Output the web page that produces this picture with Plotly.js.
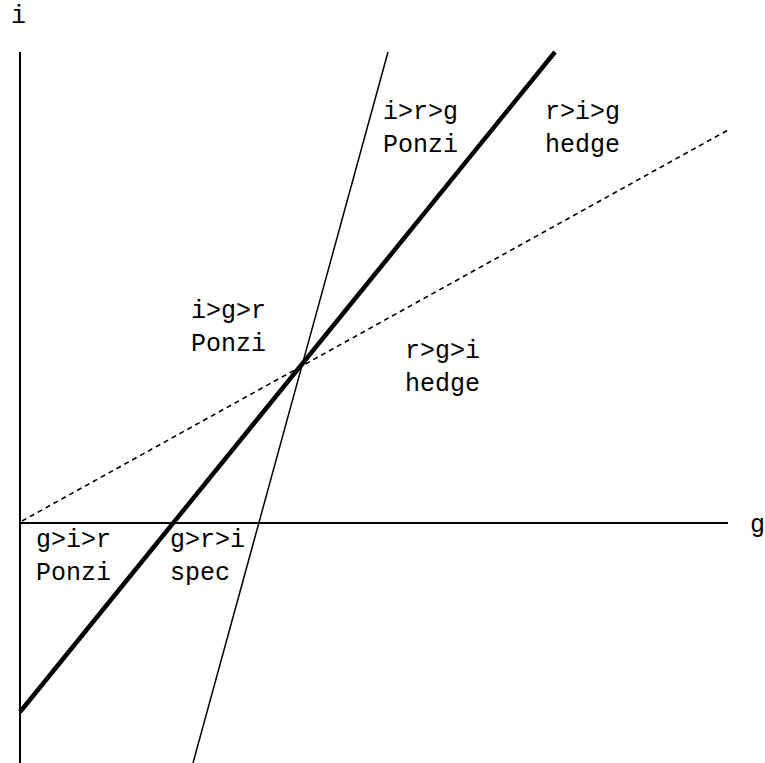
<!DOCTYPE html>
<html>
<head>
<meta charset="utf-8">
<script src="https://cdn.plot.ly/plotly-3.0.1.min.js"></script>
<style>html,body{margin:0;padding:0;background:#fff;}#chart{width:765px;height:763px;}</style>
</head>
<body>
<div id="chart"></div>
<script>
// Line endpoints in (g, i) units
const thickG = [0, 5.35];
const thickI = [-1.89, 4.71];
const steepG = [1.73, 3.68];
const steepI = [-2.40, 4.71];
const dashG = [0.02, 7.08];
const dashI = [0.02, 3.93];
const hAxisG = [0, 7.08];
const hAxisI = [0, 0];
const vAxisG = [0, 0];
const vAxisI = [-2.45, 4.71];

// Region labels
const labelTop = ["i>r>g", "r>i>g", "i>g>r", "r>g>i", "g>i>r", "g>r>i"];
const labelBottom = ["Ponzi", "hedge", "Ponzi", "hedge", "Ponzi", "spec"];
const labelG = [3.61, 5.23, 1.69, 3.83, 0.14, 1.48];
const labelI = [3.94, 3.94, 1.95, 1.55, -0.34, -0.34];

// Axis names
const axisNames = ["i", "g"];
const axisNameG = [-0.02, 7.37];
const axisNameI = [5.07, -0.02];

const esc = s => s.replace(/>/g, "&gt;");
const font = {family: "'Liberation Mono', 'Courier New', monospace", size: 25, color: "#000"};

const traces = [
  {x: hAxisG, y: hAxisI, mode: "lines", line: {color: "#000", width: 2}},
  {x: vAxisG, y: vAxisI, mode: "lines", line: {color: "#000", width: 2}},
  {x: dashG, y: dashI, mode: "lines", line: {color: "#000", width: 1.6, dash: "5px,4px"}},
  {x: steepG, y: steepI, mode: "lines", line: {color: "#000", width: 1.5}},
  {x: thickG, y: thickI, mode: "lines", line: {color: "#000", width: 4.5}}
];

const annotations = [];
for (let k = 0; k < labelTop.length; k++) {
  annotations.push({
    x: labelG[k], y: labelI[k], xref: "x", yref: "y",
    text: esc(labelTop[k]) + "<br>" + esc(labelBottom[k]),
    showarrow: false, xanchor: "left", yanchor: "middle", align: "left",
    font: font
  });
}
for (let k = 0; k < axisNames.length; k++) {
  annotations.push({
    x: axisNameG[k], y: axisNameI[k], xref: "x", yref: "y",
    text: axisNames[k], showarrow: false, xanchor: "center", yanchor: "middle",
    font: font
  });
}

const layout = {
  width: 765, height: 763,
  margin: {l: 0, r: 0, t: 0, b: 0, pad: 0},
  paper_bgcolor: "#fff", plot_bgcolor: "#fff",
  showlegend: false,
  xaxis: {range: [-0.20, 7.45], visible: false, showgrid: false, zeroline: false},
  yaxis: {range: [-2.40, 5.23], visible: false, showgrid: false, zeroline: false},
  annotations: annotations
};

Plotly.newPlot("chart", traces, layout, {staticPlot: true, displayModeBar: false});
</script>
</body>
</html>
